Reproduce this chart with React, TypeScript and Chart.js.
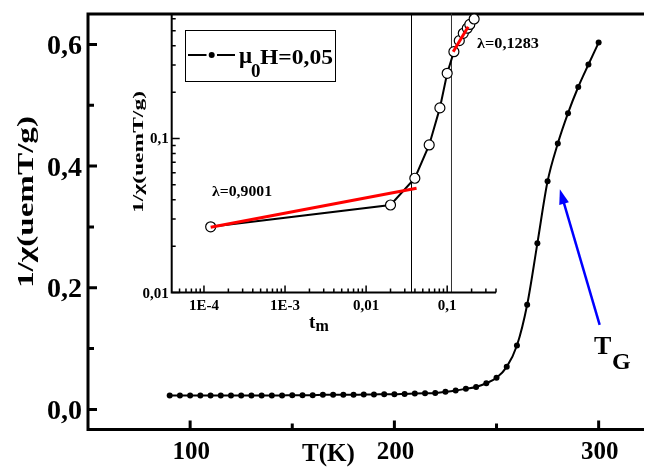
import React, { useEffect, useRef } from "react";
import { Chart, registerables } from "chart.js";
Chart.register(...registerables);

// ---------- main curve data ----------
const temperatures = [
  90, 95, 100, 105, 110, 115, 120, 125, 130, 135, 140, 145, 150, 155, 160, 165, 170, 175, 180, 185,
  190, 195, 200, 205, 210, 215, 220, 225, 230, 235, 240, 245, 250, 255, 260, 265, 270, 275, 280, 285,
  290, 295, 300,
];
const inverseChi = [
  0.023, 0.023, 0.023, 0.023, 0.023, 0.023, 0.023, 0.023, 0.023, 0.023, 0.023, 0.023, 0.0235, 0.0235,
  0.0235, 0.024, 0.024, 0.024, 0.024, 0.0245, 0.0245, 0.025, 0.025, 0.0255, 0.026, 0.0265, 0.027,
  0.029, 0.031, 0.034, 0.037, 0.043, 0.052, 0.07, 0.105, 0.172, 0.273, 0.375, 0.437, 0.487, 0.53,
  0.567, 0.603,
];
const mainXMajor = [100, 200, 300];
const mainXMajorLabels = ["100", "200", "300"];
const mainXMinor = [150, 250];
const mainYMajor = [0, 0.2, 0.4, 0.6];
const mainYMajorLabels = ["0,0", "0,2", "0,4", "0,6"];
const mainYMinor = [0.1, 0.3, 0.5];
const arrowFromT = 300.5;
const arrowFromV = 0.139;
const arrowToT = 281;
const arrowToV = 0.362;

// ---------- inset data ----------
const reducedT = [1.21e-4, 0.02, 0.0399, 0.06, 0.0813, 0.1, 0.121, 0.141, 0.158, 0.177, 0.19, 0.215];
const insetInverseChi = [0.0267, 0.037, 0.0552, 0.0908, 0.158, 0.265, 0.366, 0.432, 0.482, 0.52, 0.55, 0.597];
const fitLowT = [1.21e-4, 0.0419];
const fitLowV = [0.0265, 0.0475];
const fitHighT = [0.1186, 0.1815];
const fitHighV = [0.366, 0.532];
const markerT = [0.0363, 0.113];
const insetYRange = [0.01, 0.65];
const insetXMajor = [1e-4, 1e-3, 1e-2, 1e-1];
const insetXMajorLabels = ["1E-4", "1E-3", "0,01", "0,1"];
const insetYMajor = [0.01, 0.1];
const insetYMajorLabels = ["0,01", "0,1"];

const SERIF = '"Liberation Serif", "Times New Roman", serif';
const W = 648;
const H = 467;
const INSET_LEFT = 120;
const INSET_W = 440;
const INSET_H = 345;

function stretched(ctx: CanvasRenderingContext2D, text: string, x: number, y: number, font: string, target: number, align: CanvasTextAlign = "left") {
  ctx.save();
  ctx.font = font;
  const w = ctx.measureText(text).width;
  ctx.translate(x, y);
  ctx.scale(target / w, 1);
  ctx.textAlign = align;
  ctx.textBaseline = "alphabetic";
  ctx.fillText(text, 0, 0);
  ctx.restore();
}

function rotatedTitle(ctx: CanvasRenderingContext2D, text: string, cx: number, cy: number, font: string, length: number) {
  ctx.save();
  ctx.font = font;
  const w = ctx.measureText(text).width;
  ctx.translate(cx, cy);
  ctx.rotate(-Math.PI / 2);
  ctx.scale(length / w, 1);
  ctx.textAlign = "center";
  ctx.textBaseline = "middle";
  ctx.fillText(text, 0, 0);
  ctx.restore();
}

const mainDecor = {
  id: "mainDecor",
  afterDraw(chart: any) {
    const ctx: CanvasRenderingContext2D = chart.ctx;
    const { left, right, top, bottom } = chart.chartArea;
    const xs = chart.scales.x;
    const ys = chart.scales.y;
    ctx.save();
    ctx.strokeStyle = "#000";
    ctx.fillStyle = "#000";
    ctx.lineWidth = 3;
    ctx.lineCap = "butt";
    ctx.beginPath();
    ctx.moveTo(left, top);
    ctx.lineTo(right, top);
    ctx.moveTo(left, top - 1.5);
    ctx.lineTo(left, bottom + 1.5);
    ctx.moveTo(left, bottom);
    ctx.lineTo(right, bottom);
    ctx.stroke();
    // ticks
    ctx.lineWidth = 3;
    ctx.beginPath();
    mainYMajor.forEach((v) => {
      const y = ys.getPixelForValue(v);
      ctx.moveTo(left, y);
      ctx.lineTo(left + 9, y);
    });
    mainYMinor.forEach((v) => {
      const y = ys.getPixelForValue(v);
      ctx.moveTo(left, y);
      ctx.lineTo(left + 6, y);
    });
    mainXMajor.forEach((v) => {
      const x = xs.getPixelForValue(v);
      ctx.moveTo(x, bottom);
      ctx.lineTo(x, bottom - 9);
    });
    mainXMinor.forEach((v) => {
      const x = xs.getPixelForValue(v);
      ctx.moveTo(x, bottom);
      ctx.lineTo(x, bottom - 6);
    });
    ctx.stroke();
    // tick labels
    ctx.font = `bold 28px ${SERIF}`;
    ctx.textAlign = "right";
    ctx.textBaseline = "alphabetic";
    mainYMajor.forEach((v, i) => {
      const y = ys.getPixelForValue(v);
      ctx.fillText(mainYMajorLabels[i], left - 6, y + 9.5);
    });
    ctx.font = `bold 25px ${SERIF}`;
    ctx.textAlign = "center";
    mainXMajor.forEach((v, i) => {
      const x = xs.getPixelForValue(v);
      ctx.fillText(mainXMajorLabels[i], x + 1, bottom + 29);
    });
    // axis titles
    ctx.textAlign = "left";
    ctx.font = `bold 25px ${SERIF}`;
    ctx.fillText("T(K)", 302, 461);
    rotatedTitle(ctx, "1/\u03C7(uemT/g)", 27, 202, `bold 24px ${SERIF}`, 172);
    // arrow
    const x1 = xs.getPixelForValue(arrowFromT);
    const y1 = ys.getPixelForValue(arrowFromV);
    const x2 = xs.getPixelForValue(arrowToT);
    const y2 = ys.getPixelForValue(arrowToV);
    const ang = Math.atan2(y2 - y1, x2 - x1);
    const headL = 15;
    const headW = 5;
    ctx.strokeStyle = "#0000ff";
    ctx.fillStyle = "#0000ff";
    ctx.lineWidth = 2.5;
    ctx.beginPath();
    ctx.moveTo(x1, y1);
    ctx.lineTo(x2 - Math.cos(ang) * headL * 0.8, y2 - Math.sin(ang) * headL * 0.8);
    ctx.stroke();
    ctx.beginPath();
    ctx.moveTo(x2, y2);
    ctx.lineTo(x2 - Math.cos(ang) * headL + Math.sin(ang) * headW, y2 - Math.sin(ang) * headL - Math.cos(ang) * headW);
    ctx.lineTo(x2 - Math.cos(ang) * headL - Math.sin(ang) * headW, y2 - Math.sin(ang) * headL + Math.cos(ang) * headW);
    ctx.closePath();
    ctx.fill();
    // T_G
    ctx.fillStyle = "#000";
    ctx.textAlign = "left";
    ctx.font = `bold 26px ${SERIF}`;
    ctx.fillText("T", 594, 354);
    ctx.font = `bold 24px ${SERIF}`;
    ctx.fillText("G", 612, 369);
    ctx.restore();
  },
};

const insetDecor = {
  id: "insetDecor",
  afterDraw(chart: any) {
    const ctx: CanvasRenderingContext2D = chart.ctx;
    const { left, right, top, bottom } = chart.chartArea;
    const xs = chart.scales.x;
    const ys = chart.scales.y;
    const ox = -INSET_LEFT;
    ctx.save();
    ctx.strokeStyle = "#000";
    ctx.fillStyle = "#000";
    ctx.lineWidth = 2;
    ctx.beginPath();
    ctx.moveTo(left, top);
    ctx.lineTo(left, bottom + 1);
    ctx.moveTo(left - 1, bottom);
    ctx.lineTo(right, bottom);
    ctx.stroke();
    // ticks
    ctx.lineWidth = 1.5;
    ctx.beginPath();
    for (let d = -6; d <= 1; d++) {
      for (let m = 1; m <= 9; m++) {
        const v = m * Math.pow(10, d);
        if (v > xs.min * 1.0001 && v <= xs.max) {
          const x = xs.getPixelForValue(v);
          ctx.moveTo(x, bottom);
          ctx.lineTo(x, bottom - (m === 1 ? 7 : 4));
        }
        if (v >= ys.min && v <= ys.max) {
          const y = ys.getPixelForValue(v);
          ctx.moveTo(left, y);
          ctx.lineTo(left + (m === 1 ? 8 : 4), y);
        }
      }
    }
    ctx.stroke();
    ctx.font = `bold 15px ${SERIF}`;
    ctx.textAlign = "center";
    ctx.textBaseline = "alphabetic";
    insetXMajor.forEach((v, i) => {
      const x = xs.getPixelForValue(v);
      ctx.fillText(insetXMajorLabels[i], x, bottom + 17);
    });
    ctx.textAlign = "right";
    insetYMajor.forEach((v, i) => {
      const y = ys.getPixelForValue(v);
      ctx.fillText(insetYMajorLabels[i], left - 3, y + 5);
    });
    // x title t_m
    ctx.textAlign = "left";
    ctx.font = `bold 19px ${SERIF}`;
    ctx.fillText("t", 309 + ox, 328);
    ctx.font = `bold 16px ${SERIF}`;
    ctx.fillText("m", 315.5 + ox, 331);
    // y title
    rotatedTitle(ctx, "1/\u03C7(uemT/g)", 139 + ox, 152, `bold 15px ${SERIF}`, 122);
    // lambda labels
    stretched(ctx, "\u03BB=0,9001", 212 + ox, 196, `bold 15px ${SERIF}`, 60);
    stretched(ctx, "\u03BB=0,1283", 477 + ox, 48, `bold 15px ${SERIF}`, 62);
    // legend
    ctx.lineWidth = 1;
    ctx.strokeRect(185.5 + ox, 30.5, 150, 51);
    ctx.lineWidth = 2;
    ctx.beginPath();
    ctx.moveTo(188 + ox, 55);
    ctx.lineTo(206.5 + ox, 55);
    ctx.moveTo(217 + ox, 55);
    ctx.lineTo(235 + ox, 55);
    ctx.stroke();
    ctx.beginPath();
    ctx.arc(211.7 + ox, 55, 3, 0, Math.PI * 2);
    ctx.fill();
    ctx.font = `bold 23px ${SERIF}`;
    ctx.fillText("\u03BC", 239 + ox, 63);
    ctx.font = `bold 19px ${SERIF}`;
    ctx.fillText("0", 251 + ox, 77);
    stretched(ctx, "H=0,05", 260 + ox, 63.5, `bold 22px ${SERIF}`, 73);
    ctx.restore();
  },
};

export default function App() {
  const mainRef = useRef<HTMLCanvasElement>(null);
  const insetRef = useRef<HTMLCanvasElement>(null);

  useEffect(() => {
    const mainChart = new Chart(mainRef.current as HTMLCanvasElement, {
      type: "line",
      data: {
        datasets: [
          {
            data: temperatures.map((t, i) => ({ x: t, y: inverseChi[i] })),
            borderColor: "#000",
            backgroundColor: "#000",
            borderWidth: 2,
            pointRadius: 3,
            pointBorderWidth: 0,
            pointBackgroundColor: "#000",
            cubicInterpolationMode: "monotone",
          },
        ],
      },
      options: {
        responsive: false,
        maintainAspectRatio: false,
        devicePixelRatio: 1,
        animation: false,
        layout: { padding: { left: 88, top: 14, right: 0, bottom: H - 429.5 } },
        plugins: { legend: { display: false }, tooltip: { enabled: false } },
        scales: {
          x: { type: "linear", min: 50, max: 322.2, display: false },
          y: { type: "linear", min: -0.033, max: 0.65, display: false },
        },
      },
      plugins: [mainDecor],
    });

    const insetChart = new Chart(insetRef.current as HTMLCanvasElement, {
      type: "line",
      data: {
        datasets: [
          {
            data: fitLowT.map((t, i) => ({ x: t, y: fitLowV[i] })),
            borderColor: "#ff0000",
            borderWidth: 3,
            pointRadius: 0,
          },
          {
            data: fitHighT.map((t, i) => ({ x: t, y: fitHighV[i] })),
            borderColor: "#ff0000",
            borderWidth: 3,
            pointRadius: 0,
          },
          {
            data: reducedT.map((t, i) => ({ x: t, y: insetInverseChi[i] })),
            borderColor: "#000",
            borderWidth: 2,
            pointRadius: 5,
            pointBorderWidth: 1.2,
            pointBorderColor: "#000",
            pointBackgroundColor: "#fff",
            tension: 0,
          },
          {
            data: insetYRange.map((v) => ({ x: markerT[0], y: v })),
            borderColor: "#000",
            borderWidth: 1,
            pointRadius: 0,
          },
          {
            data: insetYRange.map((v) => ({ x: markerT[1], y: v })),
            borderColor: "#333",
            borderWidth: 1,
            pointRadius: 0,
          },
        ],
      },
      options: {
        responsive: false,
        maintainAspectRatio: false,
        devicePixelRatio: 1,
        animation: false,
        layout: {
          padding: { left: 171.7 - INSET_LEFT, top: 13.3, right: INSET_W - (496 - INSET_LEFT), bottom: INSET_H - 292.5 },
        },
        plugins: { legend: { display: false }, tooltip: { enabled: false } },
        scales: {
          x: { type: "logarithmic", min: 4e-5, max: 0.4, display: false },
          y: { type: "logarithmic", min: 0.01, max: 0.65, display: false },
        },
      },
      plugins: [insetDecor],
    });

    return () => {
      mainChart.destroy();
      insetChart.destroy();
    };
  }, []);

  return (
    <div style={{ position: "fixed", left: 0, top: 0, width: W, height: H, overflow: "hidden", background: "#fff" }}>
      <canvas ref={mainRef} width={W} height={H} style={{ position: "absolute", left: 0, top: 0, width: W, height: H }} />
      <canvas
        ref={insetRef}
        width={INSET_W}
        height={INSET_H}
        style={{ position: "absolute", left: INSET_LEFT, top: 0, width: INSET_W, height: INSET_H }}
      />
    </div>
  );
}
